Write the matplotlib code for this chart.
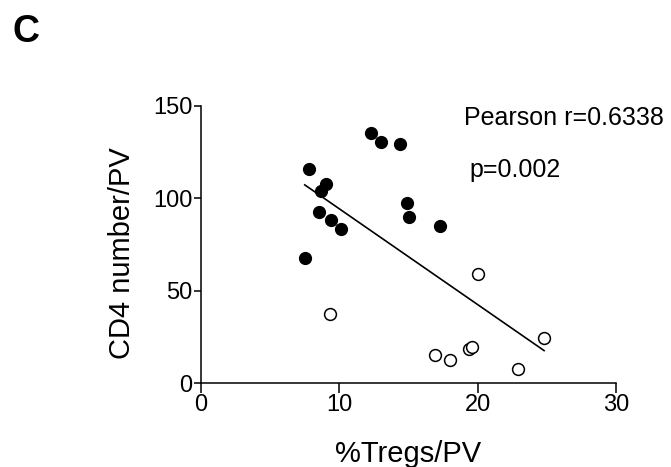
import numpy as np
import matplotlib

matplotlib.use("Agg")
import matplotlib.pyplot as plt

plt.rcParams["font.family"] = ["Liberation Sans", "DejaVu Sans"]

# high CD4 group (filled) and low CD4 group (open)
filled_x = [7.5, 7.8, 8.5, 8.7, 9.0, 9.4, 10.1, 12.3, 13.0, 14.4, 14.9, 15.0, 17.3]
filled_y = [67.8, 116.0, 92.7, 104.1, 107.7, 88.2, 83.2, 135.2, 130.3, 129.2, 97.6, 90.0, 85.0]
open_x = [9.3, 16.9, 18.0, 19.4, 19.6, 20.0, 22.9, 24.8]
open_y = [37.2, 15.0, 12.5, 18.4, 19.3, 59.0, 7.4, 24.4]

x_ticks = [0, 10, 20, 30]
y_ticks = [0, 50, 100, 150]

W, H = 671, 467
fig = plt.figure(figsize=(W / 100, H / 100), dpi=100)
ax = fig.add_axes([201 / W, 1 - 383 / H, (616 - 201) / W, (383 - 106) / H])

all_x = np.array(filled_x + open_x)
all_y = np.array(filled_y + open_y)
slope, icpt = np.polyfit(all_x, all_y, 1)
xs = np.array([all_x.min(), all_x.max()])
ax.plot(xs, slope * xs + icpt, color="black", lw=1.2, zorder=1)

ax.plot(filled_x, filled_y, "o", ms=8.5, mfc="black", mec="black", mew=1, zorder=3)
ax.plot(open_x, open_y, "o", ms=8.5, mfc="white", mec="black", mew=1.1, zorder=3)

ax.set_xlim(0, 30)
ax.set_ylim(0, 150)
ax.set_xticks(x_ticks)
ax.set_yticks(y_ticks)
for s in ("top", "right"):
    ax.spines[s].set_visible(False)
for s in ("left", "bottom"):
    ax.spines[s].set_linewidth(1.1)
ax.tick_params(axis="x", length=7, width=1.1, labelsize=17, pad=1)
ax.tick_params(axis="y", length=5, width=1.1, labelsize=17, pad=1)
ax.patch.set_alpha(0)

# axis titles placed in figure pixels
fig.text(408 / W, 1 - 462 / H, "%Tregs/PV", fontsize=21, ha="center", va="baseline")
fig.text(122.5 / W, 1 - 253 / H, "CD4 number/PV", fontsize=21, rotation=90,
         ha="center", va="center")

ax.text(19.0, 143.5, "Pearson r=0.6338", fontsize=18, va="center", ha="left")
ax.text(19.4, 115.3, "p=0.002", fontsize=18, va="center", ha="left")

fig.text(12 / W, 1 - 32.5 / H, "C", fontsize=27, fontweight="bold", va="center", ha="left")

fig.savefig("out.png", dpi=100)
